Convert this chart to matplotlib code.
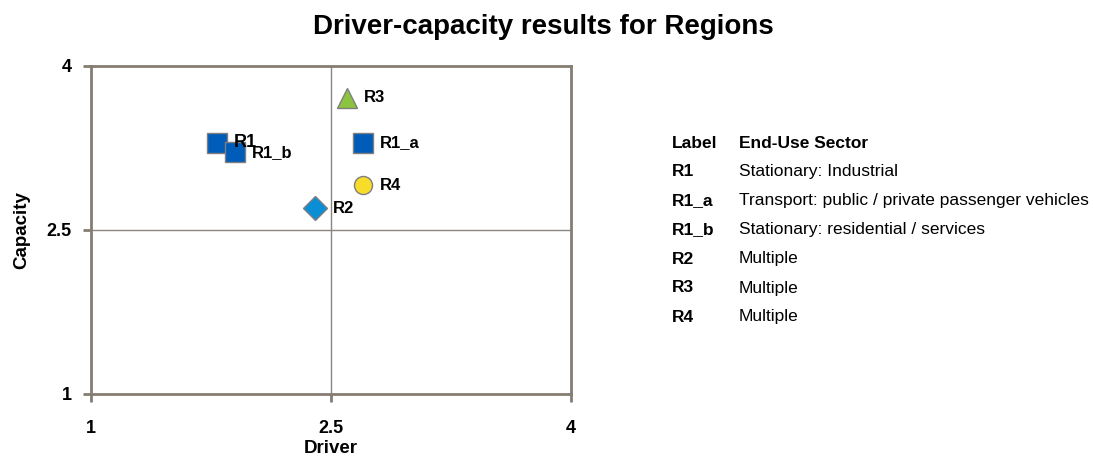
import matplotlib
matplotlib.use("Agg")
import matplotlib.pyplot as plt

plt.rcParams['font.family'] = ['Liberation Sans', 'DejaVu Sans']

labels = ["R1", "R1_b", "R3", "R1_a", "R4", "R2"]
driver = [1.79, 1.90, 2.60, 2.70, 2.70, 2.40]
capacity = [3.30, 3.21, 3.71, 3.30, 2.91, 2.70]
markers = ["s", "s", "^", "s", "o", "D"]
colors = ["#005cb9", "#005cb9", "#8cc43f", "#005cb9", "#f7dc2a", "#0a8fd6"]
sizes = [14, 14, 15, 14, 13, 12]

table_labels = ["R1", "R1_a", "R1_b", "R2", "R3", "R4"]
table_sectors = ["Stationary: Industrial",
                 "Transport: public / private passenger vehicles",
                 "Stationary: residential / services",
                 "Multiple", "Multiple", "Multiple"]

ticks = [1, 2.5, 4]
tick_labels = ["1", "2.5", "4"]

frame = "#857c72"
W, H = 1093, 459
fig = plt.figure(figsize=(W / 100, H / 100), dpi=100)
ax = fig.add_axes([91 / W, 1 - 394 / H, 480 / W, 328 / H])

ax.set_xlim(1, 4)
ax.set_ylim(1, 4)
ax.axvline(2.5, color="#8a8580", lw=1.0, zorder=1)
ax.axhline(2.5, color="#8a8580", lw=1.0, zorder=1)

for x, y, m, c, s, lab in zip(driver, capacity, markers, colors, sizes, labels):
    ax.plot(x, y, marker=m, ms=s, color=c, mec="#7f7f7f", mew=1.0,
            linestyle="none", zorder=3)
    fs = 13 if lab == "R1" else 12
    dx = 13 if m == "D" else 12
    ax.annotate(lab, (x, y), xytext=(dx, 0), textcoords="offset points",
                va="center", ha="left", fontsize=fs, fontweight="bold", zorder=4)

ax.set_xticks(ticks)
ax.set_xticklabels(tick_labels)
ax.set_yticks(ticks)
ax.set_yticklabels(tick_labels)
ax.tick_params(axis="both", direction="out", length=6, width=2, color=frame,
               labelsize=13)
ax.tick_params(axis="x", pad=13)
ax.tick_params(axis="y", pad=8)
for lbl in ax.get_xticklabels() + ax.get_yticklabels():
    lbl.set_fontweight("bold")
for sp in ax.spines.values():
    sp.set_color(frame)
    sp.set_linewidth(2.0)

ax.set_xlabel("Driver", fontsize=13.5, fontweight="bold", labelpad=2)
ax.set_ylabel("Capacity", fontsize=13.5, fontweight="bold", labelpad=12)

fig.text(543 / W, 1 - 27 / H, "Driver-capacity results for Regions",
         ha="center", va="center", fontsize=20, fontweight="bold")

fs_t = 12.5
y0 = 143
dy = 29
fig.text(672 / W, 1 - y0 / H, "Label", ha="left", va="center",
         fontsize=fs_t, fontweight="bold")
fig.text(739 / W, 1 - y0 / H, "End-Use Sector", ha="left", va="center",
         fontsize=fs_t, fontweight="bold")
for i, (tl, ts) in enumerate(zip(table_labels, table_sectors)):
    yy = 1 - (y0 + dy * (i + 1)) / H
    fig.text(672 / W, yy, tl, ha="left", va="center", fontsize=fs_t,
             fontweight="bold")
    fig.text(739 / W, yy, ts, ha="left", va="center", fontsize=fs_t)

fig.savefig("out.png", dpi=100)
